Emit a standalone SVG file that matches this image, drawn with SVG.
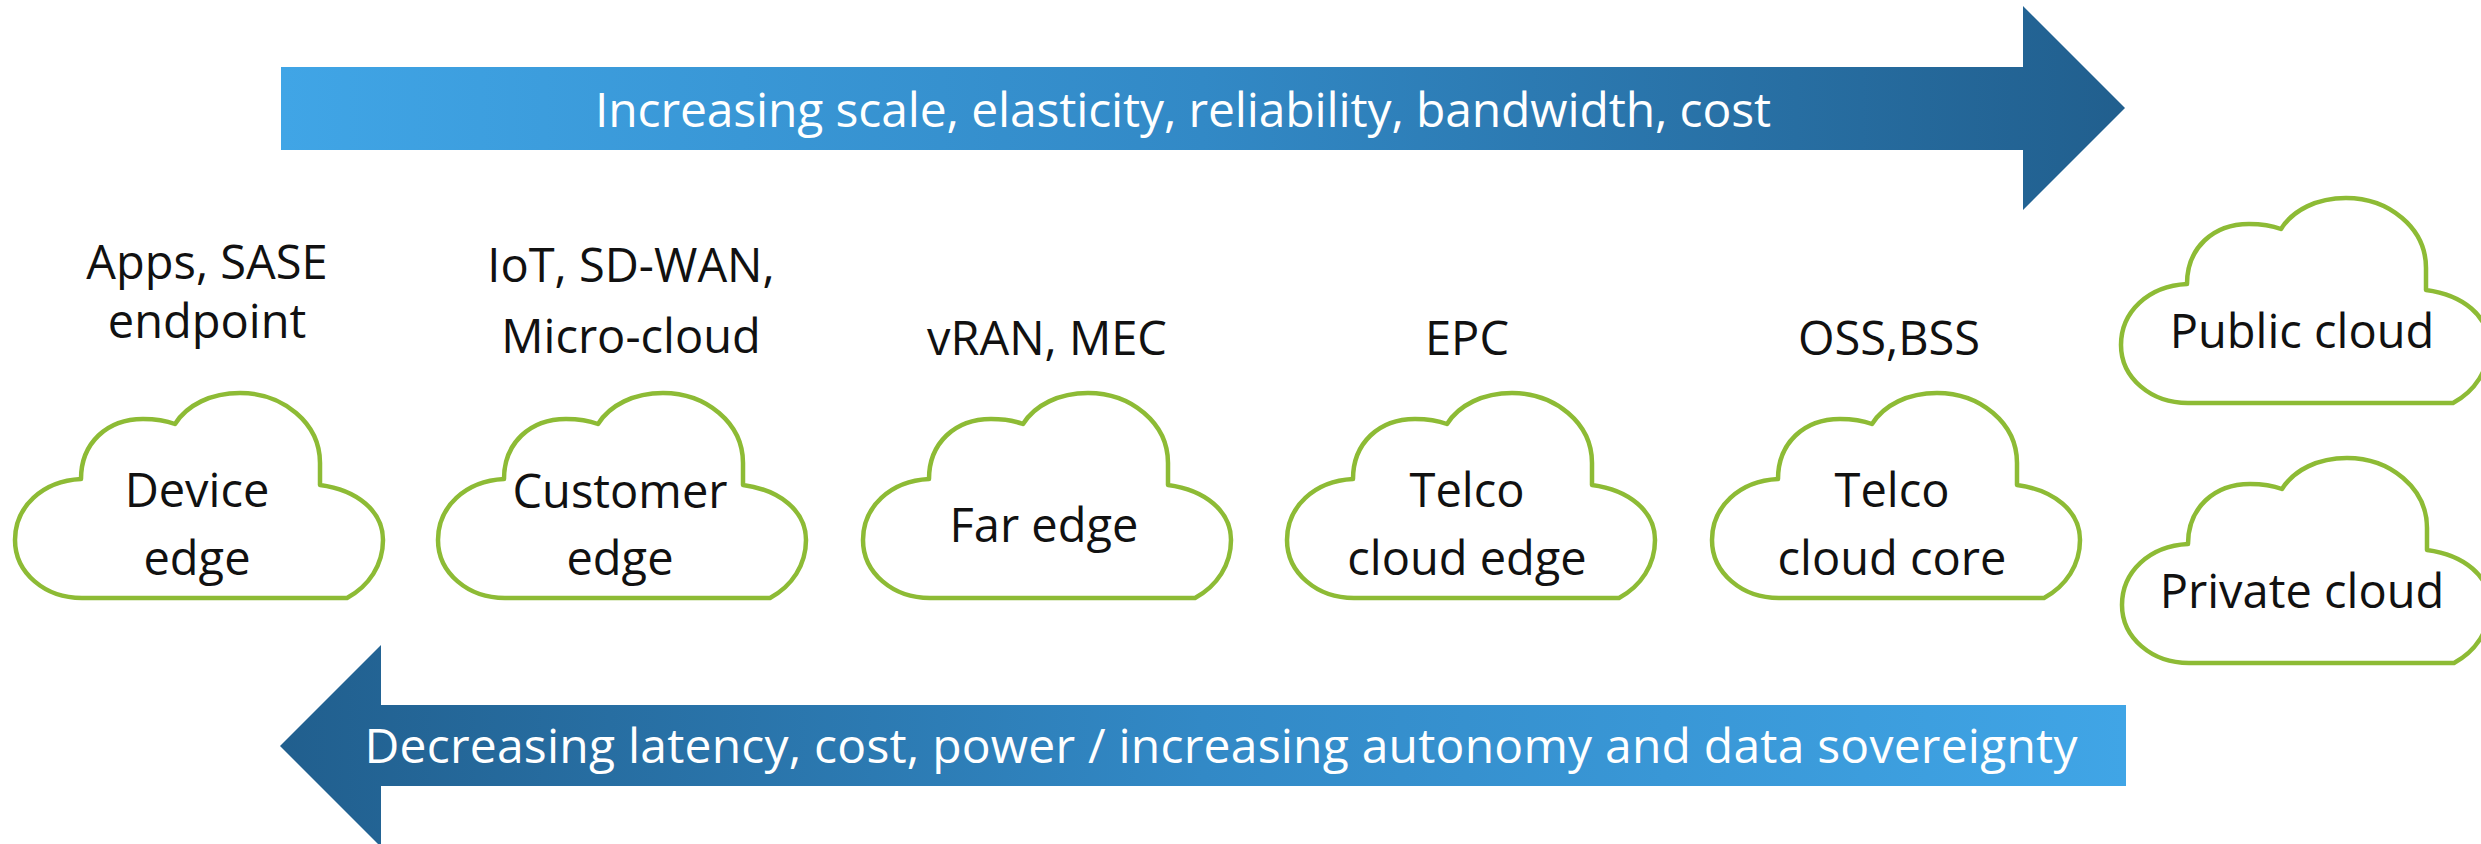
<svg xmlns="http://www.w3.org/2000/svg" xmlns:xlink="http://www.w3.org/1999/xlink" width="2481" height="844" viewBox="0 0 2481 844">
  <style>
    .cloud { fill: #ffffff; stroke: #8dbb35; stroke-width: 4.5; stroke-linejoin: round; }
    .lbl { font-family: "Open Sans", "Noto Sans", "Liberation Sans", sans-serif; font-size: 47px; fill: #111111; text-anchor: middle; }
    .arrtxt { font-family: "Open Sans", "Noto Sans", "Liberation Sans", sans-serif; font-size: 48px; fill: #ffffff; text-anchor: middle; }
  </style>
  <defs>
    <linearGradient id="gTop" gradientUnits="userSpaceOnUse" x1="281" y1="0" x2="2125" y2="0">
      <stop offset="0" stop-color="#40a5e6"/>
      <stop offset="0.5" stop-color="#3289c6"/>
      <stop offset="1" stop-color="#215f8e"/>
    </linearGradient>
    <linearGradient id="gBot" gradientUnits="userSpaceOnUse" x1="280" y1="0" x2="2126" y2="0">
      <stop offset="0" stop-color="#215f8e"/>
      <stop offset="0.5" stop-color="#3289c6"/>
      <stop offset="1" stop-color="#40a5e6"/>
    </linearGradient>
    <path id="cloudShape" class="cloud" d="M 67,205 C 30,205 0,180 0,147 C 0,114 27,88 66,86 C 66,50 92,26 128,26 C 141,26 152,28 160,31 C 172,12 196,0 225,0 C 268,0 305,30 305,70 L 305,92 C 342,97 368,118 368,147 C 368,172 354,193 332,205 Z"/>
  </defs>

  <rect x="0" y="0" width="2481" height="844" fill="#ffffff"/>

  <g id="arrows">
    <path id="arrow-increasing" d="M281,67 L2023,67 L2023,6 L2125,108 L2023,210 L2023,150 L281,150 Z" fill="url(#gTop)"/>
    <text class="arrtxt" x="1183" y="127" textLength="1176">Increasing scale, elasticity, reliability, bandwidth, cost</text>
    <path id="arrow-decreasing" d="M2126,705 L381,705 L381,645 L280,746 L381,847 L381,786 L2126,786 Z" fill="url(#gBot)"/>
    <text class="arrtxt" x="1221" y="763" textLength="1713">Decreasing latency, cost, power / increasing autonomy and data sovereignty</text>
  </g>

  <g id="device-edge">
    <text class="lbl" x="207" y="279">Apps, SASE</text>
    <text class="lbl" x="207" y="338">endpoint</text>
    <use xlink:href="#cloudShape" href="#cloudShape" x="15" y="393"/>
    <text class="lbl" x="197" y="507">Device</text>
    <text class="lbl" x="197" y="575">edge</text>
  </g>

  <g id="customer-edge">
    <text class="lbl" x="631" y="282">IoT, SD-WAN,</text>
    <text class="lbl" x="631" y="353">Micro-cloud</text>
    <use xlink:href="#cloudShape" href="#cloudShape" x="438" y="393"/>
    <text class="lbl" x="620" y="508">Customer</text>
    <text class="lbl" x="620" y="575">edge</text>
  </g>

  <g id="far-edge">
    <text class="lbl" x="1047" y="355">vRAN, MEC</text>
    <use xlink:href="#cloudShape" href="#cloudShape" x="863" y="393"/>
    <text class="lbl" x="1044" y="542">Far edge</text>
  </g>

  <g id="telco-cloud-edge">
    <text class="lbl" x="1467" y="355">EPC</text>
    <use xlink:href="#cloudShape" href="#cloudShape" x="1287" y="393"/>
    <text class="lbl" x="1467" y="507">Telco</text>
    <text class="lbl" x="1467" y="575">cloud edge</text>
  </g>

  <g id="telco-cloud-core">
    <text class="lbl" x="1889" y="355">OSS,BSS</text>
    <use xlink:href="#cloudShape" href="#cloudShape" x="1712" y="393"/>
    <text class="lbl" x="1892" y="507">Telco</text>
    <text class="lbl" x="1892" y="575">cloud core</text>
  </g>

  <g id="public-cloud">
    <use xlink:href="#cloudShape" href="#cloudShape" x="2121" y="198"/>
    <text class="lbl" x="2302" y="348">Public cloud</text>
  </g>

  <g id="private-cloud">
    <use xlink:href="#cloudShape" href="#cloudShape" x="2122" y="458"/>
    <text class="lbl" x="2302" y="608">Private cloud</text>
  </g>
</svg>
